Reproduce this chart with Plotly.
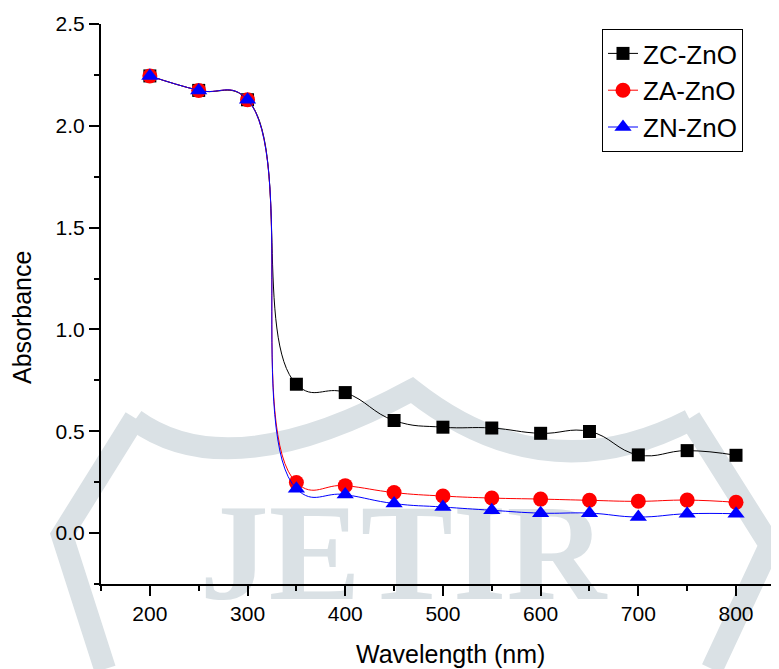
import plotly.graph_objects as go

wavelength = [200, 250, 300, 350, 400, 450, 500, 550, 600, 650, 700, 750, 800]
zc_zno = [2.245, 2.174, 2.128, 0.731, 0.690, 0.553, 0.520, 0.516, 0.490, 0.499, 0.384, 0.405, 0.382]
za_zno = [2.245, 2.174, 2.128, 0.248, 0.233, 0.199, 0.182, 0.172, 0.167, 0.161, 0.156, 0.162, 0.151]
zn_zno = [2.245, 2.174, 2.128, 0.218, 0.189, 0.145, 0.128, 0.112, 0.098, 0.098, 0.079, 0.095, 0.095]

OFF = 8  # default page body margin
PAGE_W, PAGE_H = 779, 669
W, H = PAGE_W - OFF, PAGE_H - OFF
# plot area in page pixels: left 101, right 779, top 24, bottom 584
L, R, T = 101 - OFF, 0, 24 - OFF
B = H - (584 - OFF)
FONT = "Arial, Liberation Sans, sans-serif"

fig = go.Figure()
series = [
    ("ZC-ZnO", zc_zno, "black", "square", 13),
    ("ZA-ZnO", za_zno, "red", "circle", 15),
    ("ZN-ZnO", zn_zno, "blue", "triangle-up", 15),
]
for name, vals, col, sym, sz in series:
    fig.add_trace(go.Scatter(
        x=wavelength, y=vals, name=name, mode="lines+markers",
        line=dict(color=col, width=1, shape="spline", smoothing=1.3),
        marker=dict(color=col, symbol=sym, size=sz, line=dict(width=0)),
    ))

# helpers: page pixel -> paper fraction (for the background watermark only)
pw, ph = W - L - R, H - T - B
def px(x):
    return (x - OFF - L) / pw
def py(y):
    return (H - B - (y - OFF)) / ph
def pt(a, b):
    return f"{px(a):.4f},{py(b):.4f}"

wm = "#dae1e5"
wm_paths = [
    f"M{pt(135, 420)} Q{pt(230, 489)} {pt(412, 390)} Q{pt(545, 495)} {pt(690, 420)}",
    f"M{pt(135, 418)} L{pt(62, 535)} L{pt(105, 669)}",
    f"M{pt(690, 418)} L{pt(770, 545)} L{pt(712, 669)}",
]
shapes = [dict(type="path", xref="paper", yref="paper", path=p,
               line=dict(color=wm, width=22), layer="below") for p in wm_paths]
shapes.append(dict(type="rect", xref="paper", yref="paper",
                   x0=px(303), x1=px(503), y0=py(595), y1=py(479),
                   line=dict(width=0), fillcolor="rgba(0,0,0,0)", layer="below",
                   label=dict(text="JETIR",
                              font=dict(family="Liberation Serif, serif", size=138, color=wm, weight="bold"),
                              textposition="middle center")))

fig.update_layout(
    width=W, height=H,
    margin=dict(l=L, r=R, t=T, b=B),
    paper_bgcolor="white", plot_bgcolor="rgba(0,0,0,0)",
    font=dict(family=FONT, color="black", size=21),
    shapes=shapes,
    showlegend=True,
    legend=dict(x=px(743), y=py(29), xanchor="right", yanchor="top",
                bordercolor="black", borderwidth=1, bgcolor="white",
                font=dict(size=26, family=FONT), tracegroupgap=0),
    annotations=[
        dict(text="Wavelength (nm)", x=px(450), y=py(654), xref="paper", yref="paper",
             showarrow=False, font=dict(size=25, family=FONT), xanchor="center", yanchor="middle"),
        dict(text="Absorbance", x=px(22), y=py(318), xref="paper", yref="paper", textangle=-90,
             showarrow=False, font=dict(size=25, family=FONT), xanchor="center", yanchor="middle"),
    ],
)
fig.update_xaxes(range=[150, 844], showline=True, linecolor="black", linewidth=2,
                 ticks="outside", ticklen=10, tickwidth=2, tickcolor="black",
                 tick0=0, dtick=100, showgrid=False, zeroline=False,
                 tickfont=dict(size=21),
                 minor=dict(ticks="outside", ticklen=5, tickwidth=2, tickcolor="black", dtick=50, tick0=0, showgrid=False))
fig.update_yaxes(range=[-0.25, 2.5], showline=True, linecolor="black", linewidth=2,
                 ticks="outside", ticklen=10, tickwidth=2, tickcolor="black",
                 tick0=0, dtick=0.5, tickformat=".1f", showgrid=False, zeroline=False,
                 tickfont=dict(size=21),
                 minor=dict(ticks="outside", ticklen=5, tickwidth=2, tickcolor="black", dtick=0.25, tick0=0, showgrid=False))

fig.write_html("out.html")
